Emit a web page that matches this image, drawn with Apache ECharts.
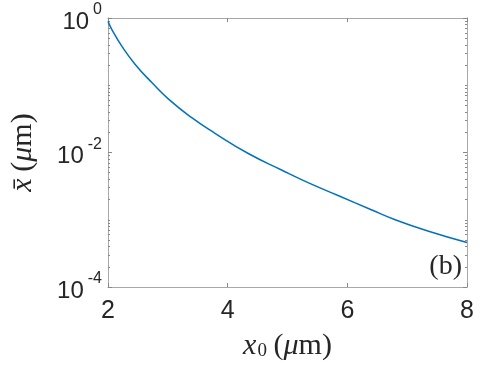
<!DOCTYPE html>
<html>
<head>
<meta charset="utf-8">
<script src="https://cdn.jsdelivr.net/npm/echarts@6/dist/echarts.min.js"></script>
<style>html,body{margin:0;padding:0;background:#fff}#c{width:498px;height:366px}</style>
</head>
<body>
<div id="c"></div>
<script>
// Data
var x0Values = [2.0, 2.067, 2.233, 2.455, 2.733, 3.012, 3.388, 3.788, 4.345, 4.9, 5.288, 5.845, 6.4, 6.79, 7.345, 8.0];
var xBarValues = [0.891, 0.667, 0.378, 0.204, 0.1096, 0.0622, 0.0335, 0.0193, 0.00966, 0.0055, 0.00376, 0.00229, 0.00141, 0.00101, 0.00068, 0.000459];
var xTicks = [2, 4, 6, 8];
var yLabelExponents = [0, -2, -4];

var yMajor = yLabelExponents.map(function (e) { return Math.pow(10, e); });
var yMinor = [];
for (var k = -4; k <= -1; k++) {
  for (var m = 1; m <= 9; m++) {
    var v = m * Math.pow(10, k);
    if (!(m === 1 && (k === -4 || k === -2))) yMinor.push(v);
  }
}

var axisColor = '#a8a8a8';
var textColor = '#262626';
var lineData = x0Values.map(function (x, i) { return [x, xBarValues[i]]; });

function yAxisDef(pos, ticks, len, showLabel) {
  return {
    type: 'log', logBase: 10, min: 1e-4, max: 1, position: pos,
    axisLine: { show: true, lineStyle: { color: axisColor, width: 1 } },
    axisTick: { show: true, inside: true, length: len, customValues: ticks, lineStyle: { color: '#888', width: 1 } },
    axisLabel: showLabel ? {
      show: true, margin: 6, customValues: yMajor, color: textColor,
      formatter: function (v) { return '{b|10}{e|' + Math.round(Math.log10(v)) + '}'; },
      rich: {
        b: { fontFamily: 'Liberation Sans', fontSize: 24, color: textColor, lineHeight: 32, verticalAlign: 'bottom' },
        e: { fontFamily: 'Liberation Sans', fontSize: 16, color: textColor, verticalAlign: 'top', lineHeight: 16, padding: [0, 0, 0, 4] }
      }
    } : { show: false },
    splitLine: { show: false },
    minorTick: { show: false }
  };
}

var yAxes = [
  yAxisDef('left', yMajor, 4, true),
  yAxisDef('left', yMinor, 2, false),
  yAxisDef('right', yMajor, 4, false),
  yAxisDef('right', yMinor, 2, false)
];
yAxes[0].name = '{i|x\u0304}  {r|(}{i|\u03bc}{r|m)}';
yAxes[0].nameLocation = 'middle';
yAxes[0].nameGap = 70;
yAxes[0].nameRotate = 90;
yAxes[0].nameTextStyle = {
  rich: {
    i: { fontFamily: 'Liberation Serif', fontStyle: 'italic', fontSize: 30, color: textColor },
    r: { fontFamily: 'Liberation Serif', fontSize: 30, color: textColor }
  }
};

var chart = echarts.init(document.getElementById('c'), null, { renderer: 'canvas' });
chart.setOption({
  animation: false,
  backgroundColor: '#fff',
  grid: { left: 106, right: 31, top: 18, bottom: 76, containLabel: false },
  xAxis: [{
    type: 'value', min: 2, max: 8, interval: 2, position: 'bottom',
    axisLine: { show: true, lineStyle: { color: axisColor, width: 1 } },
    axisTick: { show: true, inside: true, length: 4, lineStyle: { color: '#888' } },
    axisLabel: { show: true, margin: 12, color: textColor, fontFamily: 'Liberation Sans', fontSize: 25,
      customValues: xTicks },
    splitLine: { show: false },
    name: '{i|x}{s|0}  {r|(}{i|\u03bc}{r|m)}',
    nameLocation: 'middle', nameGap: 44,
    nameTextStyle: {
      rich: {
        i: { fontFamily: 'Liberation Serif', fontStyle: 'italic', fontSize: 30, color: textColor },
        s: { fontFamily: 'Liberation Serif', fontSize: 19, color: textColor, verticalAlign: 'bottom', padding: [10, 0, 0, 1] },
        r: { fontFamily: 'Liberation Serif', fontSize: 30, color: textColor }
      }
    }
  }, {
    type: 'value', min: 2, max: 8, interval: 2, position: 'top',
    axisLine: { show: true, lineStyle: { color: axisColor, width: 1 } },
    axisTick: { show: true, inside: true, length: 4, lineStyle: { color: '#888' } },
    axisLabel: { show: false },
    splitLine: { show: false }
  }],
  yAxis: yAxes,
  series: [{
    type: 'line', xAxisIndex: 0, yAxisIndex: 0,
    data: lineData, smooth: 0.5, showSymbol: false,
    lineStyle: { color: '#0072BD', width: 1.5 }
  }],
  graphic: [{
    type: 'text', right: 36, top: 253,
    style: { text: '(b)', fontFamily: 'Liberation Serif', fontSize: 28, fill: textColor }
  }]
});
</script>
</body>
</html>
